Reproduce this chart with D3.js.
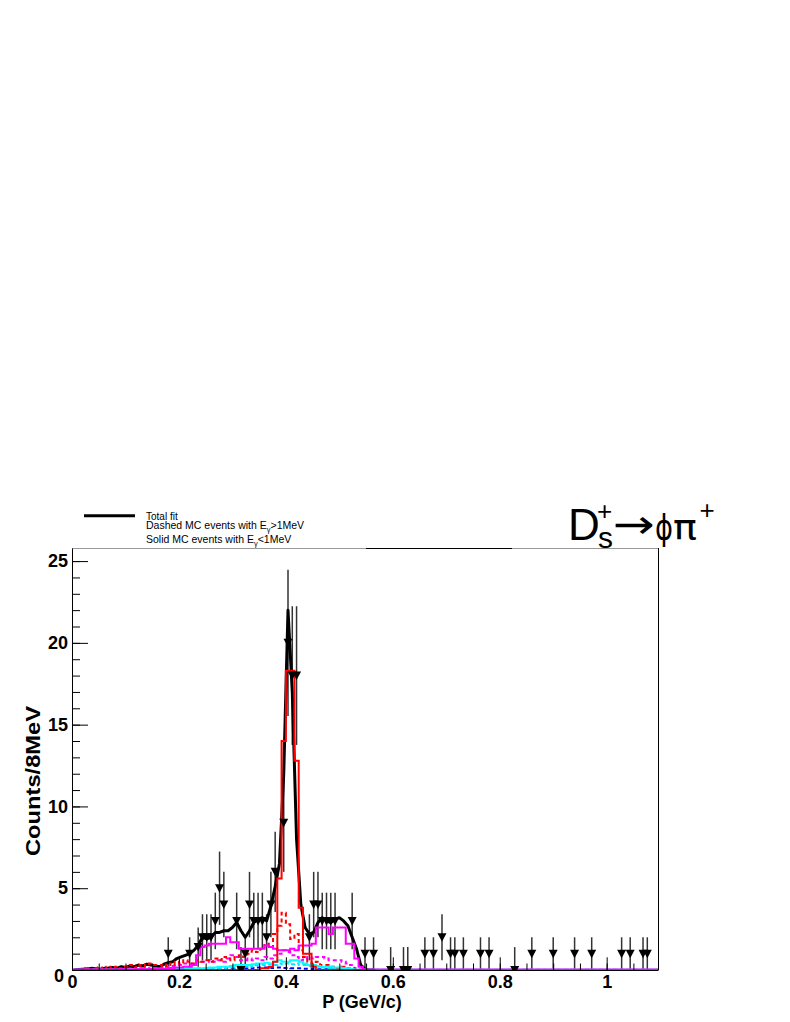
<!DOCTYPE html>
<html>
<head>
<meta charset="utf-8">
<script src="https://cdn.jsdelivr.net/npm/d3@7"></script>
<style>
  body { margin: 0; background: #fff; }
  svg { display: block; }
  text { font-family: 'Liberation Sans', Arial, Helvetica, sans-serif; }
</style>
</head>
<body>
<svg id="chart" width="790" height="1022"></svg>
<script>
// 8 MeV bins, 0 .. 1.096 GeV/c
const binWidth = 0.008;
const xMax = 1.096;
const yMax = 25.8;

// data points: bin centre, counts, error
const dataX = [0.180, 0.220, 0.236, 0.244, 0.252, 0.260, 0.268, 0.276, 0.284, 0.308,
  0.316, 0.324, 0.332, 0.340, 0.348, 0.356, 0.364, 0.372, 0.380, 0.396,
  0.404, 0.412, 0.420, 0.444, 0.452, 0.460, 0.468, 0.476, 0.484, 0.492,
  0.524, 0.548, 0.564, 0.596, 0.620, 0.628, 0.660, 0.676, 0.692, 0.708,
  0.716, 0.732, 0.764, 0.780, 0.828, 0.860, 0.900, 0.940, 0.972, 1.028,
  1.044, 1.068, 1.076];
const dataY = [1, 1, 1.4, 2, 2, 2, 3, 5, 4, 3,
  0, 1, 4, 3, 3, 3, 2, 4, 6, 9,
  20, 18, 18, 2, 4, 4, 3, 3, 3, 3,
  3, 1, 1, 0, 0, 0, 1, 1, 2, 1,
  1, 1, 1, 1, 0, 1, 1, 1, 1, 1,
  1, 1, 1];
const dataErr = [1, 1, 1.2, 1.41, 1.41, 1.41, 1.73, 2.24, 2, 1.73,
  1.4, 1, 2, 1.73, 1.73, 1.73, 1.41, 2, 2.45, 3,
  4.47, 4.24, 4.24, 1.41, 2, 2, 1.73, 1.73, 1.73, 1.73,
  1.73, 1, 1, 1.4, 1.4, 1.4, 1, 1, 1.41, 1,
  1, 1, 1, 1, 1.4, 1, 1, 1, 1, 1,
  1, 1, 1];

// total fit, value at each bin centre (bins 0..70)
const totalFit = [0.02, 0.03, 0.05, 0.06, 0.1, 0.08, 0.05, 0.1, 0.12, 0.15,
  0.1, 0.2, 0.15, 0.25, 0.2, 0.3, 0.25, 0.35, 0.3, 0.25,
  0.2, 0.35, 0.45, 0.5, 0.7, 0.8, 0.9, 1.0, 1.2, 1.5,
  2.0, 1.9, 2.0, 2.3, 2.3, 2.4, 2.4, 2.6, 2.9, 2.4,
  2.0, 2.4, 2.9, 3.1, 3.2, 3.0, 3.9, 5.1, 6.5, 12,
  22, 17, 8, 4.0, 2.6, 2.2, 2.3, 2.9, 3.2, 3.0,
  2.9, 3.1, 3.2, 3.0, 2.7, 2.0, 1.3, 0.3, 0.05, 0, 0];

// MC histograms (bins 0..70); tail = level to the end of the axis
const redSolid = [0, 0, 0, 0, 0, 0, 0, 0, 0, 0,
  0, 0, 0, 0, 0, 0, 0, 0, 0, 0,
  0, 0, 0, 0, 0, 0, 0, 0, 0, 0,
  0, 0, 0, 0, 0, 0, 0, 0, 0, 0,
  0, 0, 0, 0, 0.1, 0.1, 0.2, 0.5, 5.6, 14,
  18.3, 18.3, 12.8, 3.8, 1.0, 1.0, 0.2, 0, 0, 0,
  0, 0, 0, 0, 0, 0, 0, 0, 0, 0, 0];
const redDashed = [0, 0, 0, 0.1, 0, 0.1, 0.15, 0, 0.2, 0.1,
  0.2, 0.1, 0.2, 0.3, 0.15, 0.3, 0.2, 0.3, 0.4, 0.3,
  0.3, 0.2, 0.4, 0.3, 0.5, 0.4, 0.6, 0.5, 0.4, 0.6,
  0.5, 0.6, 0.5, 0.7, 0.6, 0.8, 0.7, 0.6, 0.8, 0.9,
  0.8, 1.0, 1.2, 1.1, 1.3, 1.6, 1.4, 2.2, 2.7, 3.5,
  2.8, 1.9, 2.2, 1.2, 0.8, 0.5, 0.4, 0.5, 0.3, 0.3,
  0.2, 0.2, 0.1, 0.2, 0.1, 0.1, 0, 0, 0, 0, 0];
const magentaSolid = [0.03, 0.03, 0.03, 0.03, 0.03, 0.03, 0.03, 0.03, 0.03, 0.03,
  0.03, 0.05, 0.03, 0.05, 0.05, 0.05, 0.08, 0.05, 0.08, 0.1,
  0.1, 0.08, 0.1, 0.12, 0.15, 0.15, 0.2, 0.2, 0.3, 0.9,
  1.4, 1.5, 1.6, 1.6, 1.6, 1.6, 2.0, 1.7, 1.7, 1.3,
  1.3, 1.3, 1.3, 1.3, 1.3, 1.5, 1.4, 1.3, 1.2, 1.2,
  1.2, 1.3, 1.2, 1.5, 1.5, 1.5, 1.6, 2.6, 2.6, 2.6,
  2.2, 2.6, 2.6, 2.6, 1.6, 1.6, 0.7, 0.2, 0.05, 0.03, 0.03];
const magentaDashed = [0, 0, 0, 0, 0.05, 0, 0, 0.05, 0, 0.05,
  0, 0.05, 0.05, 0, 0.05, 0.05, 0.1, 0.05, 0.1, 0.1,
  0.1, 0.15, 0.2, 0.25, 0.3, 0.3, 0.4, 0.35, 0.4, 0.5,
  0.5, 0.5, 0.6, 0.5, 0.6, 0.5, 0.7, 0.9, 0.8, 0.6,
  0.6, 0.7, 0.6, 0.7, 0.6, 0.8, 0.7, 0.9, 1.0, 1.2,
  1.1, 0.9, 0.8, 0.6, 0.7, 0.8, 0.7, 0.8, 0.8, 0.7,
  0.6, 0.6, 0.6, 0.5, 0.4, 0.3, 0.1, 0.05, 0, 0, 0];
const cyanSolid = [0.02, 0.02, 0.02, 0.02, 0.02, 0.02, 0.02, 0.02, 0.02, 0.02,
  0.02, 0.02, 0.02, 0.02, 0.02, 0.02, 0.03, 0.03, 0.03, 0.03,
  0.05, 0.05, 0.05, 0.06, 0.06, 0.08, 0.08, 0.1, 0.1, 0.1,
  0.1, 0.1, 0.15, 0.15, 0.2, 0.2, 0.2, 0.25, 0.3, 0.3,
  0.3, 0.3, 0.35, 0.4, 0.4, 0.45, 0.4, 0.5, 0.6, 0.5,
  0.5, 0.6, 0.6, 0.5, 0.4, 0.3, 0.3, 0.25, 0.2, 0.2,
  0.2, 0.15, 0.15, 0.1, 0.1, 0.05, 0.02, 0.02, 0.02, 0.02, 0.02];
const cyanDashed = [0.02, 0.02, 0.02, 0.02, 0.02, 0.02, 0.02, 0.02, 0.02, 0.02,
  0.02, 0.02, 0.02, 0.02, 0.02, 0.02, 0.02, 0.02, 0.02, 0.02,
  0.03, 0.03, 0.03, 0.04, 0.04, 0.05, 0.05, 0.06, 0.06, 0.07,
  0.07, 0.08, 0.1, 0.1, 0.12, 0.12, 0.15, 0.15, 0.2, 0.2,
  0.2, 0.25, 0.2, 0.3, 0.3, 0.3, 0.35, 0.3, 0.4, 0.35,
  0.4, 0.35, 0.4, 0.3, 0.3, 0.25, 0.2, 0.2, 0.15, 0.15,
  0.1, 0.1, 0.1, 0.05, 0.05, 0.03, 0.02, 0.02, 0.02, 0.02, 0.02];
const blueDashed = [0, 0, 0, 0, 0, 0, 0, 0, 0, 0,
  0, 0, 0, 0, 0, 0, 0, 0, 0, 0,
  0.02, 0.02, 0.03, 0.03, 0.04, 0.05, 0.05, 0.06, 0.06, 0.07,
  0.07, 0.08, 0.08, 0.1, 0.1, 0.1, 0.12, 0.1, 0.12, 0.12,
  0.12, 0.15, 0.12, 0.15, 0.15, 0.15, 0.12, 0.15, 0.15, 0.12,
  0.12, 0.1, 0.1, 0.1, 0.08, 0.08, 0.06, 0.05, 0.05, 0.04,
  0.03, 0.03, 0.02, 0.02, 0.01, 0.01, 0, 0, 0, 0, 0];

const xTicks = [0, 0.2, 0.4, 0.6, 0.8, 1];
const xMinorStep = 0.05;
const yTicks = [0, 5, 10, 15, 20, 25];
const yMinorStep = 1;

const svg = d3.select('#chart');
const frame = { left: 72, right: 658, top: 548, bottom: 970 };

const x = d3.scaleLinear().domain([0, xMax]).range([frame.left, frame.right]);
const y = d3.scaleLinear().domain([0, yMax]).range([frame.bottom, frame.top]);

svg.append('defs').append('clipPath').attr('id', 'frameClip')
  .append('rect')
  .attr('x', frame.left).attr('y', frame.top)
  .attr('width', frame.right - frame.left).attr('height', frame.bottom - frame.top);

const plot = svg.append('g').attr('clip-path', 'url(#frameClip)');

// data points with error bars
const pts = dataX.map((d, i) => ({ x: d, y: dataY[i], e: dataErr[i] }));
plot.append('g').selectAll('line')
  .data(pts)
  .join('line')
  .attr('x1', d => x(d.x)).attr('x2', d => x(d.x))
  .attr('y1', d => y(d.y + d.e)).attr('y2', d => y(Math.max(d.y - d.e, 0)))
  .attr('stroke', '#333')
  .attr('stroke-width', 1.5);

// total fit
const fitLine = d3.line()
  .x((d, i) => x((i + 0.5) * binWidth))
  .y(d => y(d));
plot.append('path')
  .attr('d', fitLine(totalFit))
  .attr('fill', 'none')
  .attr('stroke', '#000')
  .attr('stroke-width', 3)
  .attr('stroke-linejoin', 'round');

function stepPath(vals, tail) {
  let p = [];
  vals.forEach((v, i) => {
    p.push([i * binWidth, v]);
    p.push([(i + 1) * binWidth, v]);
  });
  if (tail !== undefined) {
    p.push([vals.length * binWidth, tail]);
    p.push([xMax, tail]);
  }
  return d3.line().x(d => x(d[0])).y(d => y(d[1]))(p);
}

const hists = [
  { vals: blueDashed, color: '#0000ff', dash: '4,3' },
  { vals: cyanDashed, color: '#00e5ff', dash: '4,3', tail: 0.02 },
  { vals: magentaDashed, color: '#ff00ff', dash: '4,3' },
  { vals: redDashed, color: '#ff0000', dash: '4,3' },
  { vals: cyanSolid, color: '#00ffff', tail: 0.02 },
  { vals: magentaSolid, color: '#ff00ff', tail: 0.03 },
  { vals: redSolid, color: '#ff0000' }
];
hists.forEach(h => {
  plot.append('path')
    .attr('d', stepPath(h.vals, h.tail))
    .attr('fill', 'none')
    .attr('stroke', h.color)
    .attr('stroke-width', 2)
    .attr('stroke-dasharray', h.dash || null);
});

// markers (inverted triangles)
plot.append('g').selectAll('path')
  .data(pts)
  .join('path')
  .attr('transform', d => `translate(${x(d.x)},${y(d.y)})`)
  .attr('d', 'M-4.5,-4L4.5,-4L0,4.5Z')
  .attr('fill', '#000');

// frame
svg.append('line')
  .attr('x1', frame.left).attr('x2', frame.right)
  .attr('y1', frame.top + 0.5).attr('y2', frame.top + 0.5)
  .attr('stroke', '#999').attr('stroke-width', 1);
svg.append('line')
  .attr('x1', 366).attr('x2', 512)
  .attr('y1', frame.top + 0.5).attr('y2', frame.top + 0.5)
  .attr('stroke', '#000').attr('stroke-width', 1);
svg.append('line')
  .attr('x1', frame.right + 0.5).attr('x2', frame.right + 0.5)
  .attr('y1', frame.top).attr('y2', frame.bottom)
  .attr('stroke', '#000').attr('stroke-width', 1);

// x axis
const xMinor = d3.range(0, xMax, xMinorStep);
svg.append('g')
  .attr('transform', `translate(0,${frame.bottom})`)
  .call(d3.axisBottom(x).tickValues(xMinor).tickSizeInner(-6.5).tickSizeOuter(0).tickFormat(''))
  .call(g => g.select('.domain').remove());
const xAxis = svg.append('g')
  .attr('transform', `translate(0,${frame.bottom})`)
  .call(d3.axisBottom(x).tickValues(xTicks).tickSizeInner(-12.7).tickSizeOuter(0)
    .tickPadding(5).tickFormat(d3.format('~g')));
xAxis.selectAll('text')
  .attr('font-size', 18).attr('font-weight', 'bold').attr('fill', '#000')
  .style('font-family', "'Liberation Sans', Arial, sans-serif");

// y axis
const yMinor = d3.range(0, 25 + 0.001, yMinorStep);
svg.append('g')
  .attr('transform', `translate(${frame.left},0)`)
  .call(d3.axisLeft(y).tickValues(yMinor).tickSizeInner(-8).tickSizeOuter(0).tickFormat(''))
  .call(g => g.select('.domain').remove());
const yAxis = svg.append('g')
  .attr('transform', `translate(${frame.left},0)`)
  .call(d3.axisLeft(y).tickValues(yTicks).tickSizeInner(-16).tickSizeOuter(0)
    .tickPadding(4).tickFormat(d3.format('d')));
yAxis.selectAll('text')
  .attr('font-size', 18).attr('font-weight', 'bold').attr('fill', '#000')
  .style('font-family', "'Liberation Sans', Arial, sans-serif");
yAxis.selectAll('.tick').filter(d => d === 0).select('text')
  .attr('x', -8).attr('dy', '0.62em');
svg.selectAll('.domain').attr('stroke', '#000');
svg.selectAll('.tick line').attr('stroke', '#000');

// axis titles
svg.append('text')
  .attr('x', 362).attr('y', 1008)
  .attr('text-anchor', 'middle')
  .attr('font-size', 18).attr('font-weight', 'bold')
  .text('P (GeV/c)');
svg.append('text')
  .attr('transform', 'translate(40,781) rotate(-90)')
  .attr('text-anchor', 'middle')
  .attr('font-size', 20).attr('font-weight', 'bold')
  .attr('textLength', 150).attr('lengthAdjust', 'spacingAndGlyphs')
  .text('Counts/8MeV');

// legend
svg.append('line')
  .attr('x1', 84).attr('x2', 135).attr('y1', 515.7).attr('y2', 515.7)
  .attr('stroke', '#000').attr('stroke-width', 3);
svg.append('text').attr('x', 146).attr('y', 519.5).attr('font-size', 10).text('Total fit');
const l2 = svg.append('text').attr('x', 146).attr('y', 529.3).attr('font-size', 10.5);
l2.append('tspan').text('Dashed MC events with E');
l2.append('tspan').attr('font-size', 7.5).attr('dy', 3).text('γ');
l2.append('tspan').attr('dy', -3).text('>1MeV');
const l3 = svg.append('text').attr('x', 146).attr('y', 543.3).attr('font-size', 10.5);
l3.append('tspan').text('Solid MC events with E');
l3.append('tspan').attr('font-size', 7.5).attr('dy', 3).text('γ');
l3.append('tspan').attr('dy', -3).text('<1MeV');

// title D_s^+ -> phi pi^+
const title = svg.append('g');
title.append('text').attr('x', 568).attr('y', 540).attr('font-size', 44).text('D');
title.append('text').attr('x', 597).attr('y', 520).attr('font-size', 26).text('+');
title.append('text').attr('x', 598).attr('y', 548).attr('font-size', 30).text('s');
title.append('text').attr('x', 613).attr('y', 538).attr('font-size', 40)
  .attr('textLength', 42).attr('lengthAdjust', 'spacingAndGlyphs')
  .style('font-family', "'DejaVu Sans', sans-serif").text('→');
title.append('text').attr('x', 655).attr('y', 540).attr('font-size', 36)
  .attr('textLength', 18).attr('lengthAdjust', 'spacingAndGlyphs')
  .style('font-family', "'DejaVu Sans', sans-serif").text('ϕ');
title.append('text').attr('x', 673).attr('y', 540).attr('font-size', 36)
  .attr('textLength', 24).attr('lengthAdjust', 'spacingAndGlyphs')
  .style('font-family', "'DejaVu Sans', sans-serif").text('π');
title.append('text').attr('x', 707).attr('y', 519).attr('font-size', 26)
  .attr('text-anchor', 'middle').text('+');
</script>
</body>
</html>
